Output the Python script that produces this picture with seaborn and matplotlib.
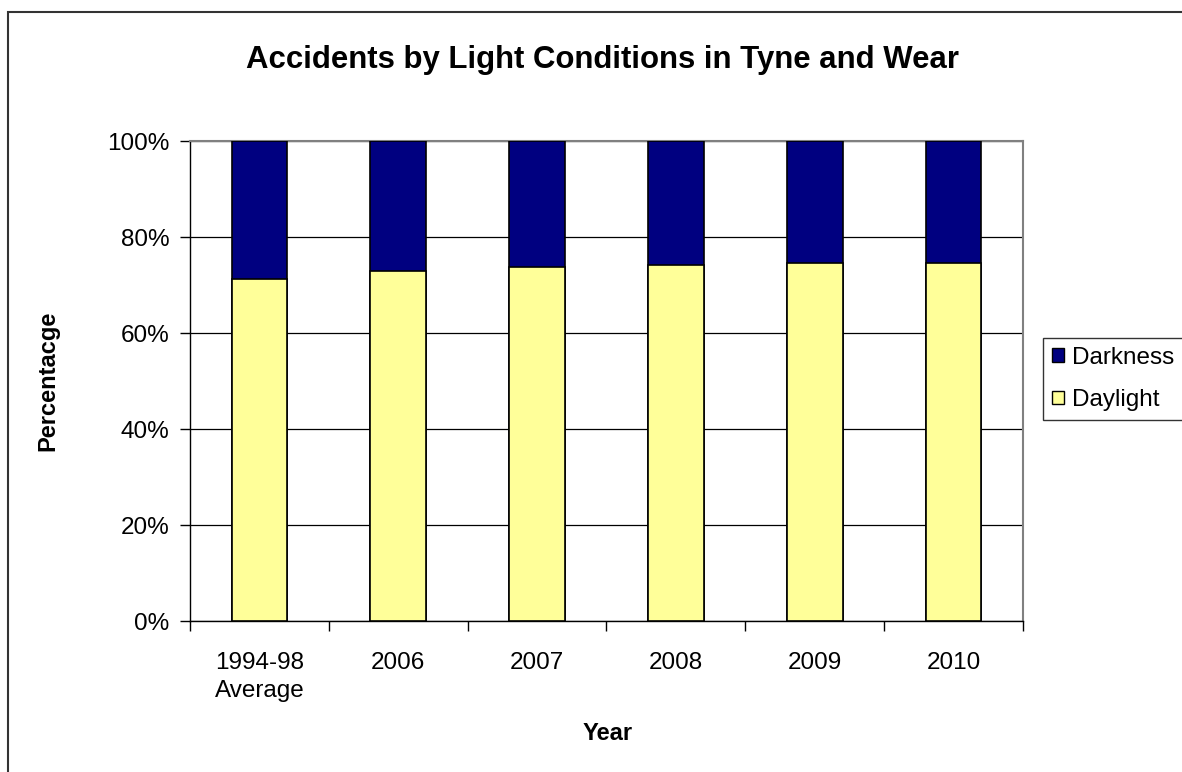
import numpy as np
import pandas as pd
import seaborn as sns
import matplotlib.pyplot as plt
from matplotlib.patches import Rectangle, Patch
from matplotlib.ticker import FuncFormatter

years = ["1994-98\nAverage", "2006", "2007", "2008", "2009", "2010"]
daylight = [71.3, 72.9, 73.7, 74.2, 74.6, 74.6]
darkness = [100 - d for d in daylight]

NAVY = "#000080"
YELLOW = "#FFFF99"

sns.set_theme(style="white")
plt.rcParams['font.family'] = ['Liberation Sans', 'DejaVu Sans']
plt.rcParams['text.color'] = 'black'
plt.rcParams['xtick.color'] = 'black'
plt.rcParams['ytick.color'] = 'black'
plt.rcParams['axes.labelcolor'] = 'black'

fig = plt.figure(figsize=(11.82, 7.72), dpi=100)
ax = fig.add_axes([190 / 1182, 151 / 772, 833 / 1182, 480 / 772])

df = pd.DataFrame({"year": years, "daylight": daylight, "darkness": darkness})
df["total"] = df["daylight"] + df["darkness"]

sns.barplot(data=df, x="year", y="total", color=NAVY, saturation=1,
            width=0.4, edgecolor="black", linewidth=1.2, ax=ax, zorder=3)
sns.barplot(data=df, x="year", y="daylight", color=YELLOW, saturation=1,
            width=0.4, edgecolor="black", linewidth=1.2, ax=ax, zorder=3)

ax.set_xlim(-0.5, len(years) - 0.5)
ax.set_ylim(0, 100)
ax.set_yticks(np.arange(0, 101, 20))
ax.yaxis.set_major_formatter(FuncFormatter(lambda v, p: f"{v:.0f}%"))
ax.grid(axis="y", color="black", linewidth=0.9, zorder=0)
ax.set_axisbelow(True)

ax.set_xticks(np.arange(len(years)))
ax.set_xticklabels(years, fontsize=17.5, linespacing=1.35)
ax.set_xticks(np.arange(-0.5, len(years)), minor=True)
ax.tick_params(axis="x", which="major", length=0, pad=22)
ax.tick_params(axis="x", which="minor", length=7, width=1, color="black",
               direction="out", bottom=True)
ax.tick_params(axis="y", length=7, width=1, color="black", direction="out",
               left=True, labelsize=17.5, pad=8)

for s in ["left", "bottom"]:
    ax.spines[s].set_color("black")
    ax.spines[s].set_linewidth(1)
for s in ["right", "top"]:
    ax.spines[s].set_color("#808080")
    ax.spines[s].set_linewidth(1.5)

ax.set_xlabel("")
ax.set_ylabel("")
fig.text(48 / 1182, 1 - 381 / 772, "Percentacge", rotation=90, fontsize=17,
         fontweight="bold", ha="center", va="center")
fig.text(608 / 1182, 1 - 733 / 772, "Year", fontsize=17, fontweight="bold",
         ha="center", va="center")
fig.text(602 / 1182, 1 - 60 / 772, "Accidents by Light Conditions in Tyne and Wear",
         fontsize=22.4, fontweight="bold", ha="center", va="center")

handles = [Patch(facecolor=NAVY, edgecolor="black", label="Darkness"),
           Patch(facecolor=YELLOW, edgecolor="black", label="Daylight")]
leg = fig.legend(handles=handles, loc="upper left",
                 bbox_to_anchor=(1043 / 1182, 1 - 338 / 772), fontsize=17.5,
                 frameon=True, fancybox=False, handlelength=0.5,
                 handleheight=0.5, handletextpad=0.35, borderpad=0.35,
                 labelspacing=0.85, borderaxespad=0)
leg.get_frame().set_edgecolor("black")
leg.get_frame().set_linewidth(1)

fig.patches.append(Rectangle((8 / 1182, -0.1), 1.2, 0.1 + 1 - 12 / 772,
                             transform=fig.transFigure, fill=False,
                             edgecolor="#333333", linewidth=1.5))

fig.savefig("out.png", dpi=100)
